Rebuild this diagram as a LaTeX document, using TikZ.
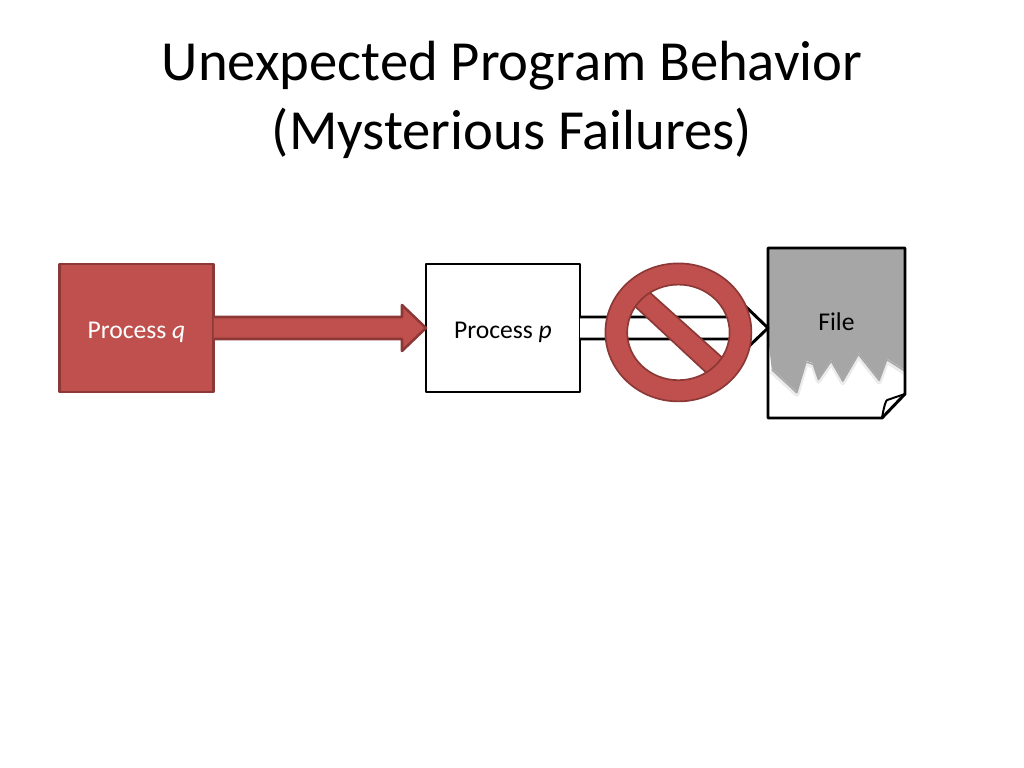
\documentclass[tikz,border=0pt]{standalone}
\usepackage{fontspec}
\usetikzlibrary{calc}
\setmainfont{Carlito}

\newcommand{\blockarrow}[3]{%
    \draw[#1] ($(#2)+(0,0.275)$) -- ($(#3)+(-0.6,0.275)$) -- ($(#3)+(-0.6,0.575)$) -- (#3)
        -- ($(#3)+(-0.6,-0.575)$) -- ($(#3)+(-0.6,-0.275)$) -- ($(#2)+(0,-0.275)$);
}
\newcommand{\tearedge}{(22.625,9.95) -- (22.17,10.24) -- (21.98,9.72) -- (21.46,10.37) -- (21.07,9.70)
    -- (20.78,10.20) -- (20.46,9.74) -- (20.33,10.12) -- (20.15,10.18) -- (19.92,9.41) -- (19.29,9.99)}

\begin{document}
\begin{tikzpicture}
    \definecolor{slide_red}{HTML}{c0504d}
    \definecolor{slide_darkred}{HTML}{8c3836}
    \definecolor{slide_gray}{HTML}{a6a6a6}
    \tikzset{
        redline/.style={draw=slide_darkred, fill=slide_red, line width=1.8pt, line join=round},
        signline/.style={draw=slide_darkred, fill=slide_red, line width=1.2pt, line join=round},
        blackline/.style={draw=black, fill=white, line width=2.1pt, line join=round},
        procbox/.style={minimum width=3.85cm, minimum height=3.2cm, outer sep=0pt, text height=0.72cm, text depth=0.2cm, font=\fontsize{18.2}{22}\selectfont},
        filebox/.style={minimum width=3.425cm, minimum height=4.25cm, outer sep=0pt, font=\fontsize{18.2}{22}\selectfont},
    }
    \useasboundingbox (0,0) rectangle (25.6,19.2);
    %\draw[help lines] (0,0) grid (25,19);

    \node[align=center, font=\fontsize{40.3}{48.6}\selectfont] (title) at (12.8,16.7) {
        Unexpected Program Behavior\\
        (Mysterious Failures)
    };

    \node[procbox, redline, text=white] (q) at (3.4125,11.0) {Process \textit{q}};
    \node[procbox, blackline] (p) at (12.575,11.0) {Process \textit{p}};

    % torn sheet
    \draw[black!8, line width=3.5pt, line join=round, yshift=-0.07cm] \tearedge;
    \draw[black!35, line width=1.0pt, line join=round, yshift=-0.03cm] \tearedge;
    \path[fill=slide_gray] (19.2,13.0) -- (22.625,13.0) -- \tearedge -- (19.2,10.8) -- cycle;
    \draw[line width=2.1pt, line join=round] (19.2,13.0) -- (22.625,13.0) -- (22.625,9.35) -- (22.05,8.75) -- (19.2,8.75) -- cycle;
    \draw[line width=1.4pt, line join=round] (22.05,8.75) .. controls (22.1,9.05) and (22.15,9.2) .. (22.18,9.2) -- (22.625,9.35);
    \node[filebox] (file) at (20.9125,10.875) {\raisebox{0.575cm}{File}};

    \coordinate (qtip) at (p.west);
    \coordinate (ftip) at (file.west |- p.east);
    \blockarrow{redline}{q.east}{qtip}
    \blockarrow{blackline}{p.east}{ftip}

    % no entry sign
    \begin{scope}
        \clip (16.96,10.89) ellipse [x radius=1.28, y radius=1.195];
        \draw[signline] (16.04,12.07) -- (18.32,10.02) -- (17.9,9.66) -- (15.63,11.77) -- cycle;
    \end{scope}
    \draw[signline, even odd rule] (16.96,10.89) ellipse [x radius=1.825, y radius=1.725]
        (16.96,10.89) ellipse [x radius=1.28, y radius=1.195];
\end{tikzpicture}
\end{document}
